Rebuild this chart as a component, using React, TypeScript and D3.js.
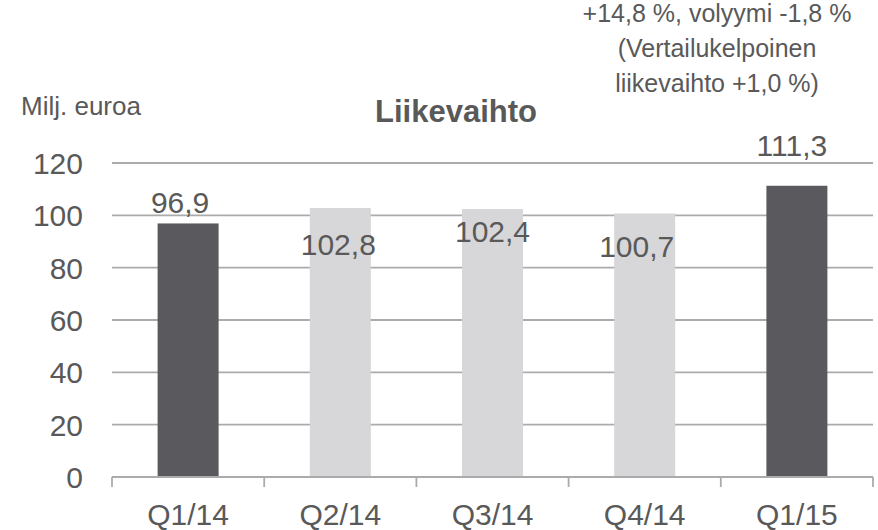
import { useEffect, useRef } from "react";
import * as d3 from "d3";

const categories = ["Q1/14", "Q2/14", "Q3/14", "Q4/14", "Q1/15"];
const values = [96.9, 102.8, 102.4, 100.7, 111.3];
const labels = ["96,9", "102,8", "102,4", "100,7", "111,3"];
const highlighted = [true, false, false, false, true];
const yTicks = [0, 20, 40, 60, 80, 100, 120];
const noteLines = ["+14,8 %, volyymi -1,8 %", "(Vertailukelpoinen", "liikevaihto +1,0 %)"];

// hand placed label positions (baseline relative to bar top, horizontal nudge)
const labelDy = [-10, 47, 33, 43, -30];
const labelDx = [-8, -2, 0, -8, -5];

const font = "'Liberation Sans', Arial, sans-serif";
const textColor = "#595959";
const gridColor = "#ababab";

export default function App() {
    const ref = useRef<SVGSVGElement>(null);

    useEffect(() => {
        const svg = d3.select(ref.current);
        svg.selectAll("*").remove();

        const width = 878;
        const height = 530;
        const left = 112, right = 873, top = 163, bottom = 477;

        const x = d3.scaleBand().domain(categories).range([left, right]);
        const y = d3.scaleLinear().domain([0, 120]).range([bottom, top]);
        const barW = 61;

        // gridlines
        svg.append("g")
            .selectAll("line")
            .data(yTicks.filter(t => t > 0))
            .enter().append("line")
            .attr("x1", left).attr("x2", right)
            .attr("y1", d => y(d)).attr("y2", d => y(d))
            .attr("stroke", gridColor).attr("stroke-width", 1.8);

        // y tick labels
        svg.append("g")
            .selectAll("text")
            .data(yTicks)
            .enter().append("text")
            .attr("x", 83).attr("y", d => y(d) + 11)
            .attr("text-anchor", "end")
            .attr("font-size", 30)
            .attr("fill", textColor)
            .text(d => d);

        // bars
        svg.append("g")
            .selectAll("rect")
            .data(values)
            .enter().append("rect")
            .attr("x", (d, i) => x(categories[i])! + x.bandwidth() / 2 - barW / 2)
            .attr("width", barW)
            .attr("y", d => y(d))
            .attr("height", d => bottom - y(d))
            .attr("fill", (d, i) => highlighted[i] ? "#5a595e" : "#d7d6d8");

        // x axis baseline + ticks
        svg.append("line")
            .attr("x1", left).attr("x2", right)
            .attr("y1", bottom).attr("y2", bottom)
            .attr("stroke", gridColor).attr("stroke-width", 1.8);
        const edges = categories.map(c => x(c)!).concat([right]);
        svg.append("g")
            .selectAll("line")
            .data(edges)
            .enter().append("line")
            .attr("x1", d => d).attr("x2", d => d)
            .attr("y1", bottom).attr("y2", bottom + 10)
            .attr("stroke", gridColor).attr("stroke-width", 1.8);

        // category labels
        svg.append("g")
            .selectAll("text")
            .data(categories)
            .enter().append("text")
            .attr("x", d => x(d)! + x.bandwidth() / 2)
            .attr("y", 525)
            .attr("text-anchor", "middle")
            .attr("font-size", 30)
            .attr("fill", textColor)
            .text(d => d);

        // value labels
        svg.append("g")
            .selectAll("text")
            .data(values)
            .enter().append("text")
            .attr("x", (d, i) => x(categories[i])! + x.bandwidth() / 2 + labelDx[i])
            .attr("y", (d, i) => y(d) + labelDy[i])
            .attr("text-anchor", "middle")
            .attr("font-size", 30)
            .attr("fill", textColor)
            .text((d, i) => labels[i]);

        // titles
        svg.append("text")
            .attr("x", 456).attr("y", 122)
            .attr("text-anchor", "middle")
            .attr("font-size", 31).attr("font-weight", "bold")
            .attr("fill", textColor)
            .text("Liikevaihto");

        svg.append("text")
            .attr("x", 21).attr("y", 115)
            .attr("font-size", 26)
            .attr("fill", textColor)
            .text("Milj. euroa");

        svg.append("g")
            .selectAll("text")
            .data(noteLines)
            .enter().append("text")
            .attr("x", 717).attr("y", (d, i) => 22 + i * 35)
            .attr("text-anchor", "middle")
            .attr("font-size", 25)
            .attr("fill", textColor)
            .text(d => d);

        svg.attr("width", width).attr("height", height);
    }, []);

    return <svg ref={ref} style={{ position: "absolute", left: 0, top: 0, fontFamily: font }}></svg>;
}
